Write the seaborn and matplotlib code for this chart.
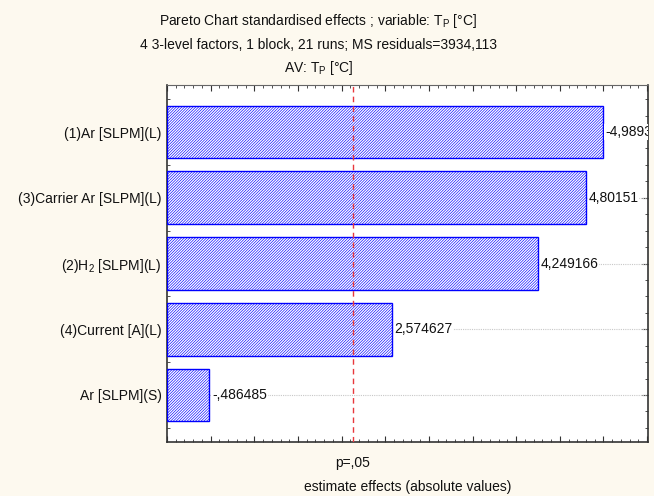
import matplotlib
matplotlib.use("Agg")
import matplotlib.pyplot as plt
from matplotlib.ticker import MultipleLocator, NullFormatter
import matplotlib.transforms as mtransforms
import seaborn as sns
import pandas as pd

# ---- data ----
factors = [
    "(1)Ar [SLPM](L)",
    "(3)Carrier Ar [SLPM](L)",
    r"(2)H$_\mathregular{2}$ [SLPM](L)",
    "(4)Current [A](L)",
    "Ar [SLPM](S)",
]
effects = [-4.989302, 4.80151, 4.249166, 2.574627, -0.486485]
p_crit = 2.131  # t critical value for p=,05
title_lines = [
    r"Pareto Chart standardised effects ; variable: $\mathregular{T_P}$ [°C]",
    "4 3-level factors, 1 block, 21 runs; MS residuals=3934,113",
    r"AV: $\mathregular{T_P}$ [°C]",
]

def fmt(v):
    s = f"{abs(v):.6f}".rstrip("0").rstrip(".")
    if s.startswith("0."):
        s = s[1:]
    s = s.replace(".", ",")
    return ("-" if v < 0 else "") + s

df = pd.DataFrame({"factor": factors, "effect": effects})
df["abs_effect"] = df["effect"].abs()

sns.set_style("ticks")
plt.rcParams["font.family"] = ["Liberation Sans", "DejaVu Sans"]
plt.rcParams["hatch.color"] = "#5a5aff"
plt.rcParams["hatch.linewidth"] = 0.45

FS = 10
bg = "#fdf9ef"
fig = plt.figure(figsize=(6.54, 4.96), dpi=100, facecolor=bg)
ax = fig.add_axes([0.2554, 0.1089, 0.7354, 0.7197])
ax.set_facecolor("white")

sns.barplot(data=df, x="abs_effect", y="factor", orient="h", ax=ax,
            color="white", width=0.8, edgecolor="#0000ff", linewidth=1.0,
            zorder=3)
for p in ax.patches:
    p.set_hatch("/" * 12)
    p.set_facecolor("white")
    p.set_edgecolor("#0000ff")

# horizontal dotted grid at categories
for i in range(len(factors)):
    ax.axhline(i, color="#c8c8c8", ls=(0, (1, 1)), lw=0.8, zorder=1)

# critical line
ax.axvline(p_crit, color="#e8383d", ls=(0, (4, 3)), lw=1.0, zorder=4)

# value labels (the first one is cut by the frame, as in the original)
for i, (v, a) in enumerate(zip(df["effect"], df["abs_effect"])):
    ax.text(a + 0.03, i, fmt(v), va="center", ha="left", fontsize=FS,
            color="#111111", zorder=5, clip_on=True,
            bbox=dict(facecolor="white", edgecolor="none", pad=0.5))

ax.set_xlim(0, 5.51)
ax.set_ylim(4.715, -0.715)
ax.xaxis.set_major_locator(MultipleLocator(0.5))
ax.xaxis.set_minor_locator(MultipleLocator(0.1))
ax.xaxis.set_major_formatter(NullFormatter())
ax.yaxis.set_minor_locator(MultipleLocator(0.25))
ax.tick_params(axis="both", which="major", direction="in", length=4,
               width=0.8, color="#333333", top=True, right=True)
ax.tick_params(axis="both", which="minor", direction="in", length=2,
               width=0.6, color="#333333", top=True, right=True)
ax.tick_params(axis="y", labelsize=FS, labelcolor="#111111", pad=4)
ax.set_ylabel("")
ax.set_xlabel("estimate effects (absolute values)", fontsize=FS,
              color="#111111", labelpad=24)

for side in ["left", "bottom", "right"]:
    ax.spines[side].set_color("#333333")
    ax.spines[side].set_linewidth(1.2)
ax.spines["top"].set_color("#666666")
ax.spines["top"].set_linewidth(0.8)
for s in ax.spines.values():
    s.set_visible(True)

trans = mtransforms.blended_transform_factory(ax.transData, ax.transAxes)
ax.text(p_crit, -0.038, "p=,05", transform=trans, ha="center", va="top",
        fontsize=FS, color="#111111")

for y, line in zip([0.958, 0.909, 0.862], title_lines):
    fig.text(0.487, y, line, ha="center", va="center", fontsize=FS,
             color="#111111")

fig.savefig("out.png", dpi=100, facecolor=bg)
